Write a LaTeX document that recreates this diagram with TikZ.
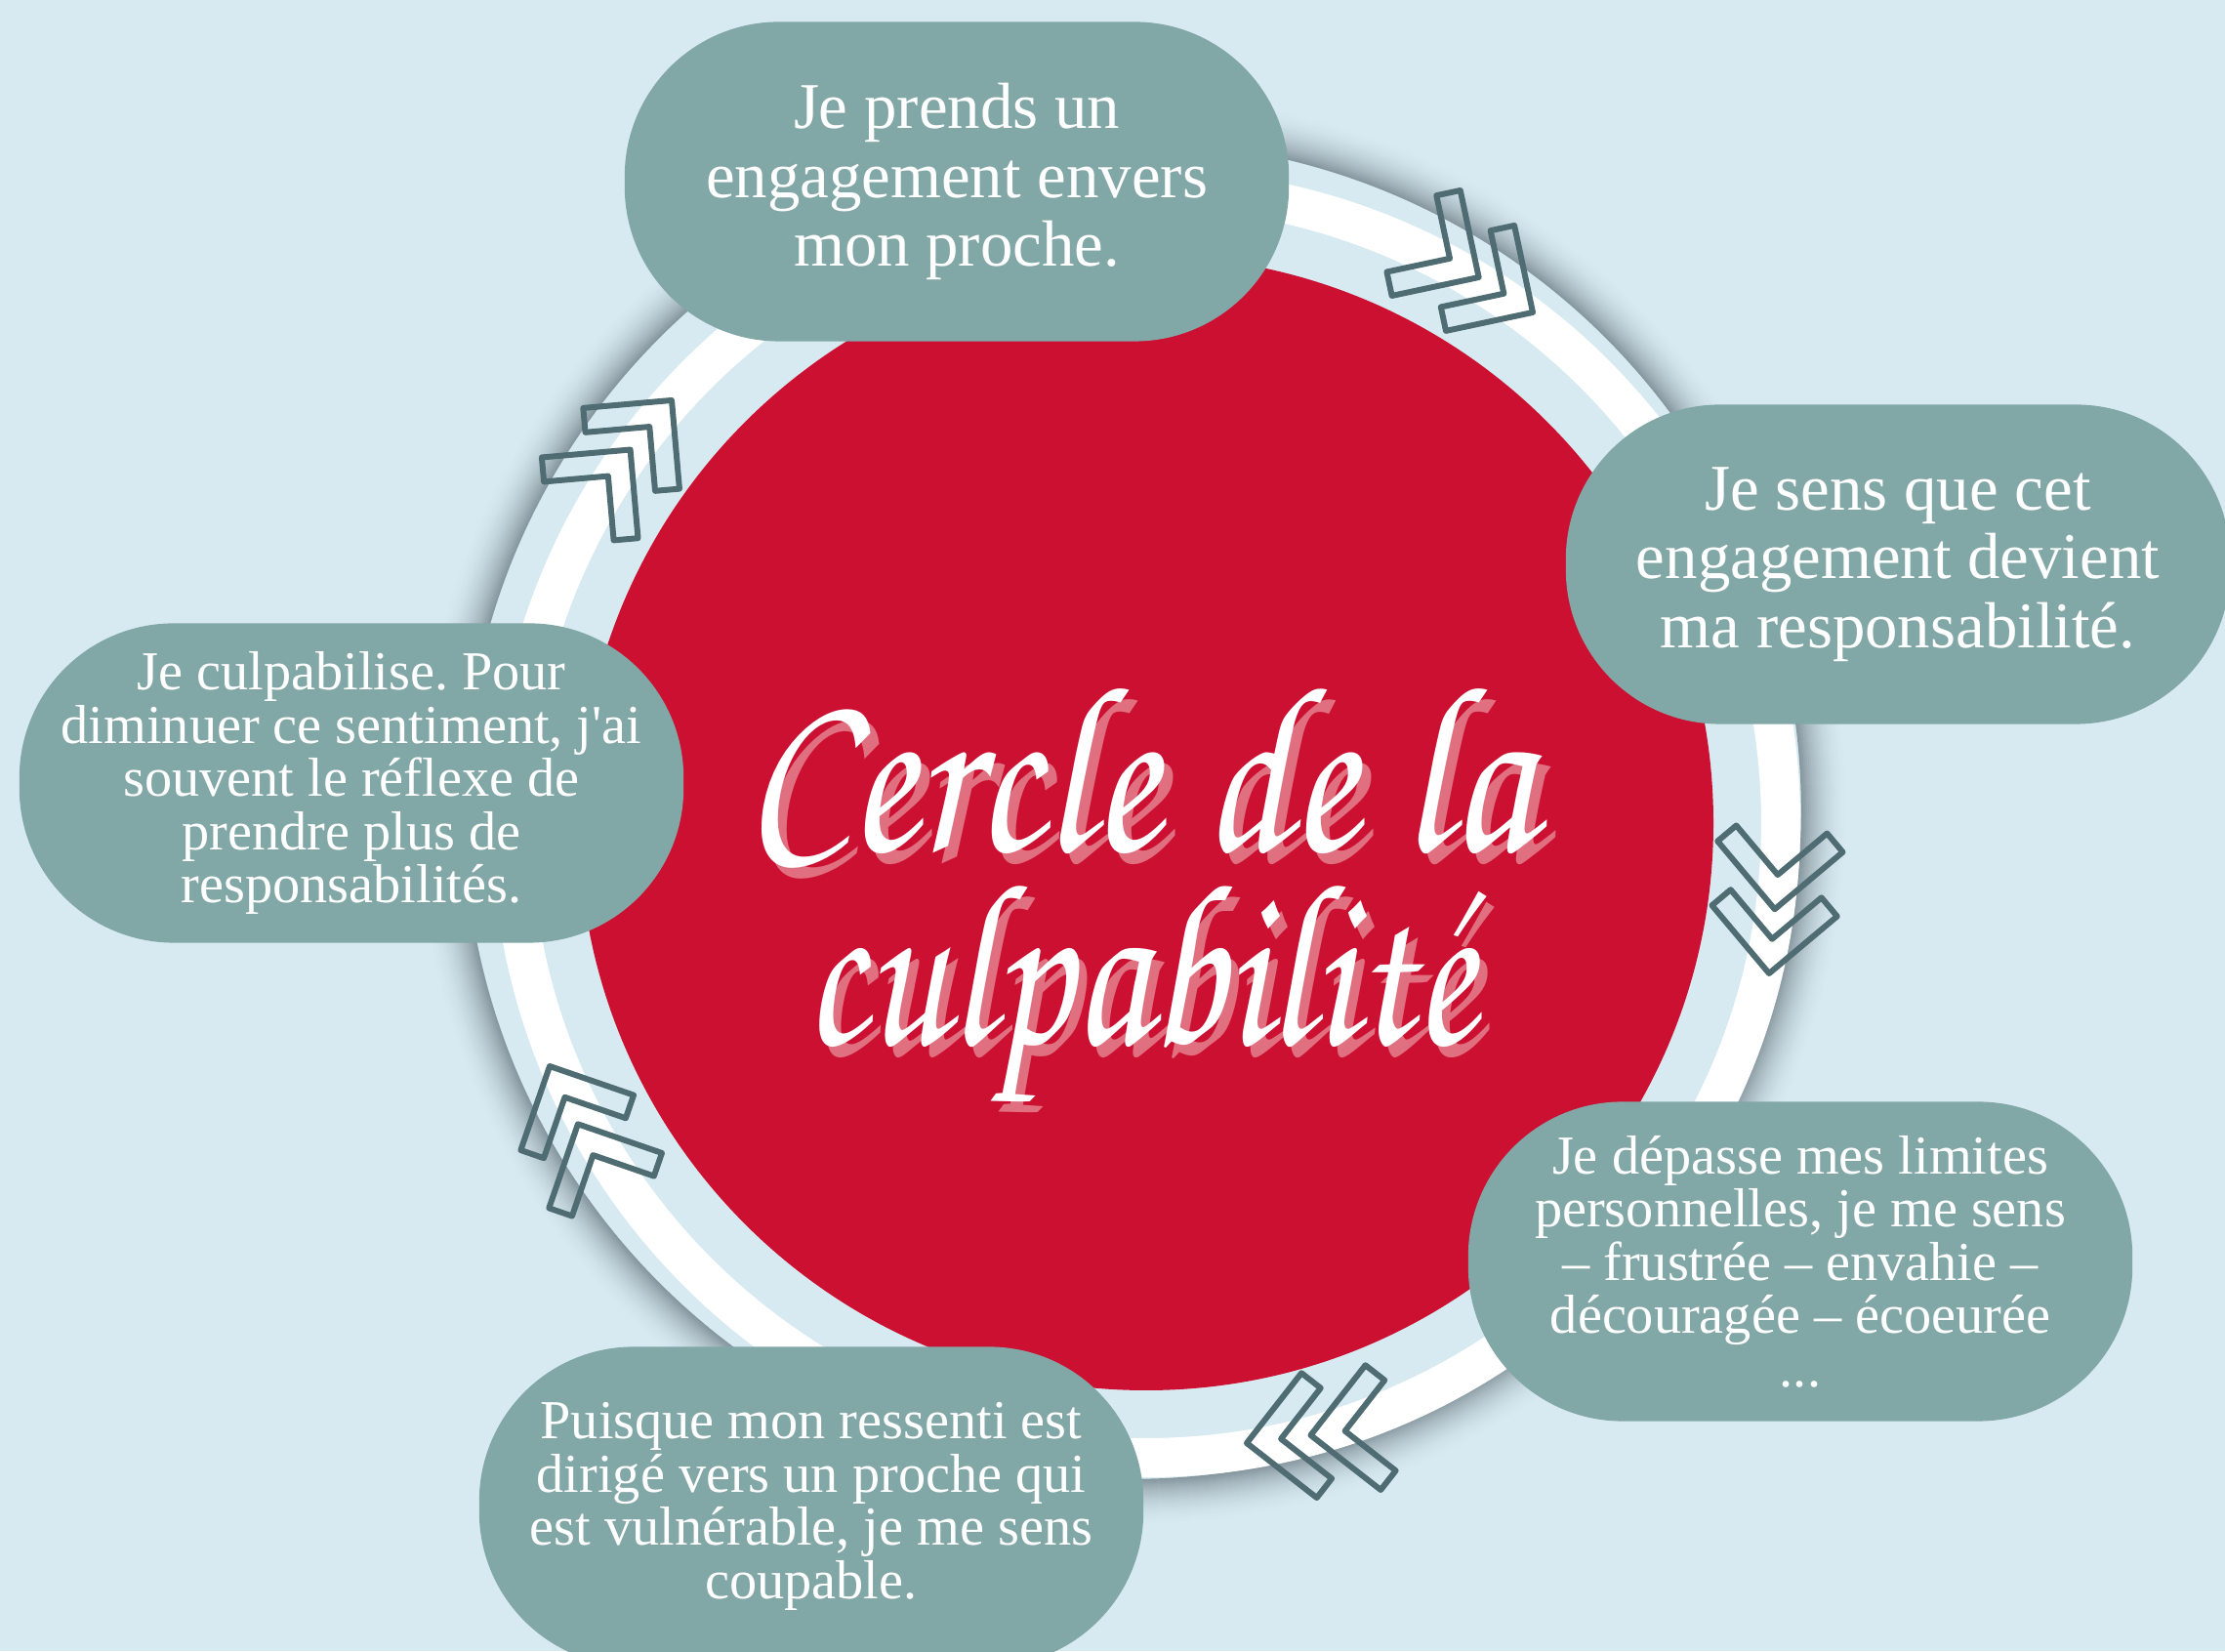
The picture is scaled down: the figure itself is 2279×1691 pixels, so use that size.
\documentclass[tikz,border=0pt]{standalone}
\usepackage{fontspec}
\setmainfont{Liberation Serif}
\usepackage{tikz}
\usepackage{xcolor}
\usetikzlibrary{positioning}
\frenchspacing

\definecolor{bgblue}{RGB}{216,234,241}
\definecolor{boxgreen}{RGB}{129,167,166}
\definecolor{discred}{RGB}{204,16,49}
\definecolor{chevgray}{RGB}{78,108,113}
\definecolor{ringshade}{RGB}{136,152,160}
\definecolor{titleshade}{RGB}{224,112,128}

\newcommand{\bigtext}{\fontsize{19}{20}\selectfont}
\newcommand{\smalltext}{\fontsize{16}{15.5}\selectfont}
\newcommand{\titlefont}{\fontencoding{T1}\fontfamily{pzc}\fontseries{mb}\fontshape{it}\fontsize{58}{56}\selectfont}

\tikzset{
  box/.style={rectangle, rounded corners=45pt, fill=boxgreen, text=white, align=center,
    minimum width=6.8cm, minimum height=3.27cm, inner sep=0pt},
  chev/.style={draw=chevgray, line width=1.7pt, line join=round},
  titletext/.style={anchor=base, inner sep=0pt, font=\titlefont}
}

\begin{document}
\begin{tikzpicture}[x=0.01cm, y=0.01cm]
  \useasboundingbox (0,0) rectangle (2279,1691);
  \clip (0,0) rectangle (2279,1691);
  \fill[bgblue] (0,0) rectangle (2279,1691);

  % shadow round the ring
  \foreach \i in {0,...,24} {
    \pgfmathsetmacro\p{100*(1-\i/25)^2}
    \draw[ringshade!\p!bgblue, line width=0.7pt] (1160,861) circle[radius=686+2*\i];
  }
  \draw[white, line width=11.4pt] (1174,848) circle[radius=650];
  \fill[discred] (1174,848) circle[radius=581];

  % title
  \begin{scope}[shift={(1166,819)}, yscale=1.2, transform shape]
    \node[titletext, text=titleshade] (cercleshadow) at (9,-9) {Cercle de la};
    \node[titletext, text=white] (cercle) at (0,0) {Cercle de la};
  \end{scope}
  \begin{scope}[shift={(1167,621)}, xscale=0.91, yscale=1.17, transform shape]
    \node[titletext, text=titleshade] (culpashadow) at (9,-9) {culpabilit\'e};
    \node[titletext, text=white] (culpa) at (0,0) {culpabilit\'e};
  \end{scope}

  % chevrons
  \foreach \x/\y/\a in {1570/1371/-33, 1812/694/-95, 1277/213/187, 563/599/116, 688/1281/50} {
    \foreach \k in {0,1}
      \draw[chev, shift={(\x,\y)}, rotate=\a, shift={(-66*\k,0)}, rotate=-225]
        (0,0) -- (91,0) -- (91,25) -- (25,25) -- (25,91) -- (0,91) -- cycle;
  }

  % boxes
  \node[box, font=\bigtext] (engage) at (980,1505) {Je prends un\\engagement envers\\mon proche.};
  \node[box, font=\bigtext] (respons) at (1944,1113) {Je sens que cet\\engagement devient\\ma responsabilit\'e.};
  \node[box, font=\smalltext] (limits) at (1844,399) {Je d\'epasse mes limites\\personnelles, je me sens\\-- frustr\'ee -- envahie --\\d\'ecourag\'ee -- \'ecoeur\'ee\\...};
  \node[box, font=\smalltext] (guilty) at (831,148) {Puisque mon ressenti est\\dirig\'e vers un proche qui\\est vuln\'erable, je me sens\\coupable.};
  \node[box, font=\smalltext] (reflex) at (360,889) {Je culpabilise. Pour\\diminuer ce sentiment, j\textquotesingle ai\\souvent le r\'eflexe de\\prendre plus de\\responsabilit\'es.};
\end{tikzpicture}
\end{document}
